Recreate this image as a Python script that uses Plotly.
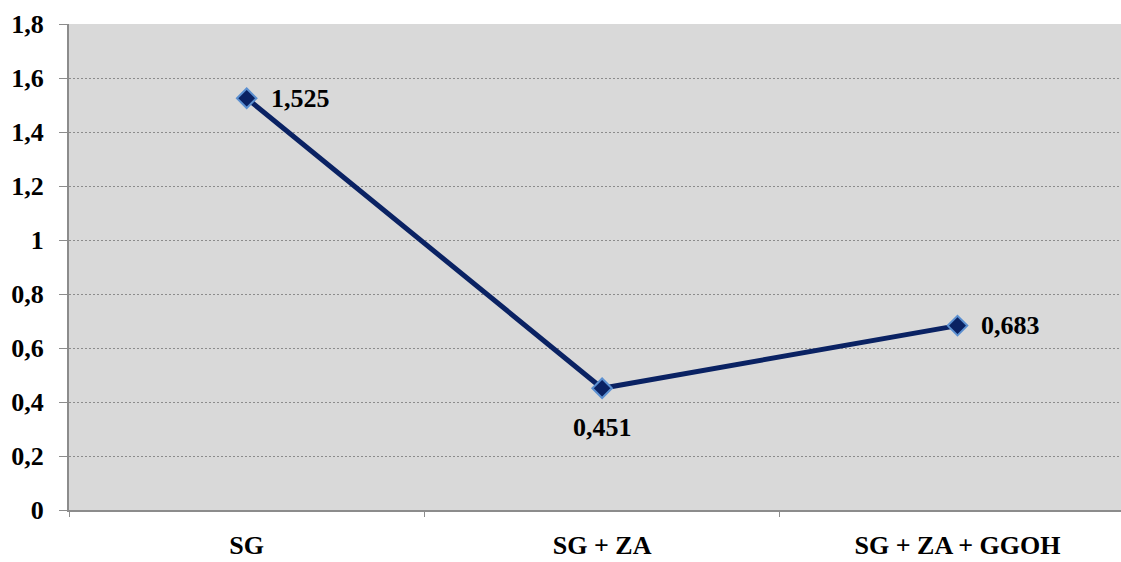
import plotly.graph_objects as go

# Data
categories = ["SG", "SG + ZA", "SG + ZA + GGOH"]
values = [1.525, 0.451, 0.683]
y_ticks = [0, 0.2, 0.4, 0.6, 0.8, 1, 1.2, 1.4, 1.6, 1.8]

labels = [f"{v:.3f}".replace(".", ",") for v in values]
font_family = "Liberation Serif"
navy = "#0a2263"

fig = go.Figure(
    go.Scatter(
        x=categories,
        y=values,
        mode="lines+markers",
        line=dict(color=navy, width=5),
        marker=dict(symbol="diamond", size=15, color=navy,
                    line=dict(color="#5b8fd0", width=2)),
        cliponaxis=False,
        hoverinfo="skip",
    )
)

# value labels: right of the point, except the lowest one which sits below
label_style = [
    dict(xanchor="left", yanchor="middle", xshift=22, yshift=0),
    dict(xanchor="center", yanchor="top", xshift=0, yshift=-23),
    dict(xanchor="left", yanchor="middle", xshift=21, yshift=0),
]
for cat, val, txt, st in zip(categories, values, labels, label_style):
    fig.add_annotation(
        x=cat, y=val, text=f"<b>{txt}</b>", showarrow=False,
        font=dict(family=font_family, size=26, color="black"), **st
    )

tick_font = dict(family=font_family, size=26, color="black")

fig.update_layout(
    width=1121,
    height=562,
    margin=dict(l=69, r=0, t=24, b=52),
    paper_bgcolor="white",
    plot_bgcolor="#d9d9d9",
    separators=", ",
    showlegend=False,
    font=dict(family=font_family, size=26, color="black"),
)

fig.update_xaxes(
    type="category",
    range=[-0.5, 2.46],
    automargin=False,
    tickson="boundaries",
    ticks="outside",
    ticklen=5,
    tickcolor="#8c8c8c",
    showline=True,
    linecolor="#8c8c8c",
    linewidth=2,
    showgrid=False,
    tickfont=tick_font,
    tickvals=categories,
    ticktext=[f"<b>{c}</b>" for c in categories],
    ticklabelstandoff=11,
)

fig.update_yaxes(
    range=[0, 1.8],
    automargin=False,
    tickvals=y_ticks,
    ticktext=["<b>" + (f"{t:g}".replace(".", ",")) + "</b>" for t in y_ticks],
    ticks="outside",
    ticklen=8,
    tickcolor="#8c8c8c",
    showline=True,
    linecolor="#8c8c8c",
    linewidth=2,
    showgrid=True,
    gridcolor="#8c8c8c",
    griddash="2px,2px",
    gridwidth=1,
    zeroline=False,
    tickfont=tick_font,
    ticklabelstandoff=10,
)

fig.write_html("out.html")
